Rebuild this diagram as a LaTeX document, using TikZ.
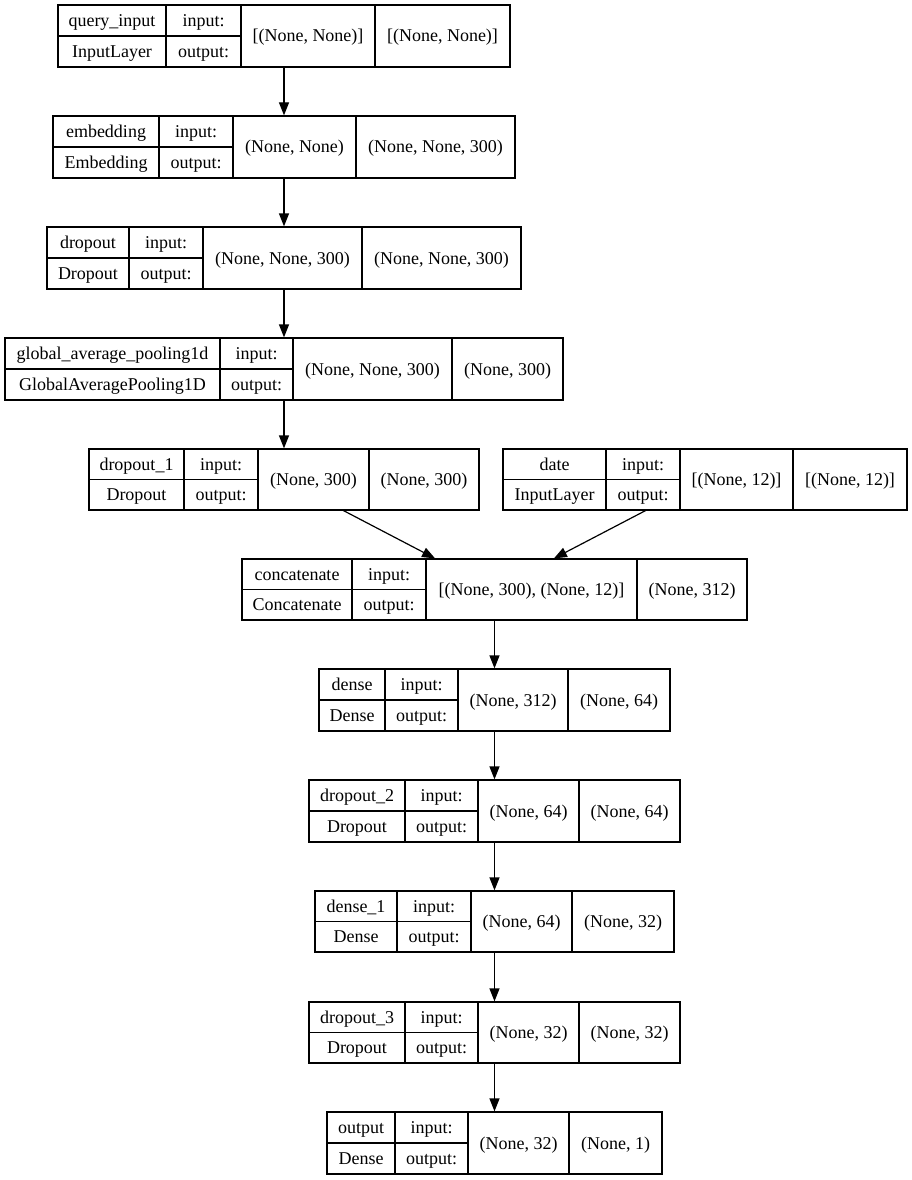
\documentclass[tikz,border=0pt]{standalone}
\usepackage{fontspec}
\setmainfont{Liberation Serif}
\usetikzlibrary{fit,arrows.meta}
\newcommand\lbox[8]{% id, x0, xa, xb, xc, x1, ytop, ybot
  \def\Id{#1}\def\Xo{#2}\def\Xa{#3}\def\Xb{#4}\def\Xc{#5}\def\Xe{#6}\def\Yt{#7}\def\Yb{#8}%
  \node[lay, fit={(#2,#7)(#6,#8)}] (#1) {};
  \draw[cell] (#3,#7)--(#3,#8) (#4,#7)--(#4,#8) (#5,#7)--(#5,#8)
    (#2,{(#7+#8)/2})--(#4,{(#7+#8)/2});
}
\newcommand\ltext[4]{% name, class, in, out
  \node[txt] (\Id-n) at ({(\Xo+\Xa)/2},{0.75*\Yt+0.25*\Yb+6}) {#1};
  \node[txt] (\Id-c) at ({(\Xo+\Xa)/2},{0.25*\Yt+0.75*\Yb+6}) {#2};
  \node[txt] (\Id-i) at ({(\Xa+\Xb)/2},{0.75*\Yt+0.25*\Yb+6}) {input:};
  \node[txt] (\Id-o) at ({(\Xa+\Xb)/2},{0.25*\Yt+0.75*\Yb+6}) {output:};
  \node[txt] (\Id-s) at ({(\Xb+\Xc)/2},{0.5*\Yt+0.5*\Yb+6}) {#3};
  \node[txt] (\Id-t) at ({(\Xc+\Xe)/2},{0.5*\Yt+0.5*\Yb+6}) {#4};
}
\begin{document}
\begin{tikzpicture}[x=1pt,y=-1pt,
  lay/.style={draw, line width=1.2pt, inner sep=0pt, rectangle},
  cell/.style={line width=1.2pt},
  txt/.style={anchor=base, inner sep=0pt, font=\fontsize{18}{22}\selectfont},
  edge/.style={line width=1.2pt, -{Triangle[length=13pt,width=10pt]}}]
\fill[white] (0,0) rectangle (912,1180);
\useasboundingbox (0,0) rectangle (912,1180);

\lbox{q}{58}{166}{241}{375}{510}{5}{67}
\ltext{query\_input}{InputLayer}{[(None, None)]}{[(None, None)]}
\lbox{emb}{53}{159}{233}{356}{515}{116}{178}
\ltext{embedding}{Embedding}{(None, None)}{(None, None, 300)}
\lbox{dr}{47}{129}{203}{362}{521}{227}{289}
\ltext{dropout}{Dropout}{(None, None, 300)}{(None, None, 300)}
\lbox{gap}{5}{220}{293}{452}{563}{338}{400}
\ltext{global\_average\_pooling1d}{GlobalAveragePooling1D}{(None, None, 300)}{(None, 300)}
\lbox{dr1}{89}{184}{258}{369}{479}{449}{510}
\ltext{dropout\_1}{Dropout}{(None, 300)}{(None, 300)}
\lbox{date}{503}{606}{680}{793}{907}{449}{510}
\ltext{date}{InputLayer}{[(None, 12)]}{[(None, 12)]}
\lbox{cat}{242}{352}{426}{637}{747}{559}{620}
\ltext{concatenate}{Concatenate}{[(None, 300), (None, 12)]}{(None, 312)}
\lbox{den}{319}{385}{458}{568}{670}{669}{731}
\ltext{dense}{Dense}{(None, 312)}{(None, 64)}
\lbox{dr2}{309}{405}{478}{579}{680}{780}{842}
\ltext{dropout\_2}{Dropout}{(None, 64)}{(None, 64)}
\lbox{den1}{315}{397}{471}{572}{674}{891}{952}
\ltext{dense\_1}{Dense}{(None, 64)}{(None, 32)}
\lbox{dr3}{309}{405}{478}{579}{680}{1002}{1063}
\ltext{dropout\_3}{Dropout}{(None, 32)}{(None, 32)}
\lbox{out}{327}{395}{468}{569}{662}{1112}{1174}
\ltext{output}{Dense}{(None, 32)}{(None, 1)}

\draw[edge] (q) -- (emb);
\draw[edge] (emb) -- (dr);
\draw[edge] (dr) -- (gap);
\draw[edge] (gap) -- (dr1);
\draw[edge] (dr1) -- (cat);
\draw[edge] (date) -- (cat);
\draw[edge] (cat) -- (den);
\draw[edge] (den) -- (dr2);
\draw[edge] (dr2) -- (den1);
\draw[edge] (den1) -- (dr3);
\draw[edge] (dr3) -- (out);
\end{tikzpicture}
\end{document}
